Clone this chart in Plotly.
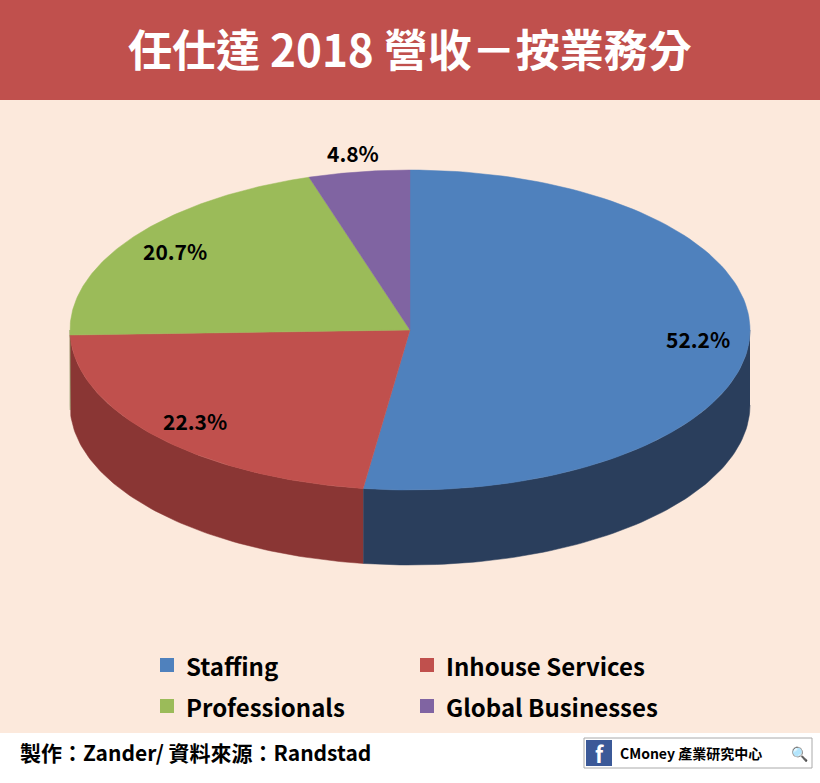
import numpy as np
import plotly.graph_objects as go

# data
segments = ["Staffing", "Inhouse Services", "Professionals", "Global Businesses"]
shares = [52.2, 22.3, 20.7, 4.8]
top_colors = ["#4F81BD", "#C0504D", "#9BBB59", "#8064A2"]
side_colors = ["#2A3E5C", "#8A3634", "#6B8240", "#5A4773"]
label_factor = [0.85, 0.85, 0.85, 1.12]

W, H = 820, 783
cx, cy, rx, ry, depth = 410, 330, 340, 160, 75
FONT = "Noto Sans CJK TC"


def pt(theta_deg, dy=0.0):
    t = np.radians(theta_deg)
    return cx + rx * np.cos(t), cy - ry * np.sin(t) + dy


fig = go.Figure()

# angles, clockwise from 12 o'clock
bounds = [90.0]
for s in shares:
    bounds.append(bounds[-1] - s / 100 * 360)

# front side faces
for i in range(len(shares)):
    a0, a1 = bounds[i], bounds[i + 1]
    lo, hi = max(a1, -180), min(a0, 0)
    if lo >= hi:
        continue
    th = np.linspace(hi, lo, 80)
    xt, yt = pt(th)
    xb, yb = pt(th[::-1], depth)
    fig.add_trace(go.Scatter(x=np.r_[xt, xb], y=np.r_[yt, yb], fill="toself",
                             fillcolor=side_colors[i], mode="lines",
                             line=dict(color=side_colors[i], width=0.5),
                             hoverinfo="skip", showlegend=False))

# top faces
for i in range(len(shares)):
    th = np.linspace(bounds[i], bounds[i + 1], 120)
    xs, ys = pt(th)
    fig.add_trace(go.Scatter(x=np.r_[cx, xs, cx], y=np.r_[cy, ys, cy], fill="toself",
                             fillcolor=top_colors[i], mode="lines",
                             line=dict(color=top_colors[i], width=0.5),
                             hoverinfo="skip", showlegend=False))
    mid = (bounds[i] + bounds[i + 1]) / 2
    t = np.radians(mid)
    fig.add_annotation(x=cx + label_factor[i] * rx * np.cos(t),
                       y=cy - label_factor[i] * ry * np.sin(t),
                       text=f"<b>{shares[i]:.1f}%</b>", showarrow=False,
                       font=dict(size=21, color="black", family=FONT))

# title band and footer
fig.add_shape(type="rect", x0=0, x1=W, y0=0, y1=100, fillcolor="#C0504D", line_width=0, layer="below")
fig.add_shape(type="rect", x0=0, x1=W, y0=733, y1=H, fillcolor="white", line_width=0, layer="below")
fig.add_annotation(x=W / 2, y=48, text="<b>任仕達 2018 營收－按業務分</b>", showarrow=False,
                   font=dict(size=44, color="white", family=FONT))

# legend
leg_pos = [(160, 665), (420, 665), (160, 706), (420, 706)]
for (lx, ly), name, col in zip(leg_pos, segments, top_colors):
    fig.add_shape(type="rect", x0=lx, x1=lx + 14, y0=ly - 7, y1=ly + 7, fillcolor=col, line_width=0)
    fig.add_annotation(x=lx + 24, y=ly, text=f"<b>{name}</b>", showarrow=False, xanchor="left",
                       font=dict(size=24, color="black", family=FONT))

fig.add_annotation(x=18, y=752, text="<b>製作：Zander/ 資料來源：Randstad</b>", showarrow=False,
                   xanchor="left", font=dict(size=21, color="black", family=FONT))
fig.add_shape(type="rect", x0=584, x1=812, y0=738, y1=768, fillcolor="white",
              line=dict(color="#AAAAAA", width=1))
fig.add_shape(type="rect", x0=586, x1=612, y0=740, y1=766, fillcolor="#3B5998", line_width=0)
fig.add_annotation(x=599, y=753, text="<b>f</b>", showarrow=False, font=dict(size=22, color="white", family=FONT))
fig.add_annotation(x=618, y=753, text="<b>CMoney 產業研究中心</b>", showarrow=False, xanchor="left",
                   font=dict(size=14, color="black", family=FONT))
fig.add_annotation(x=799, y=753, text="🔍", showarrow=False, font=dict(size=14, color="#888"))

fig.update_xaxes(range=[0, W], visible=False)
fig.update_yaxes(range=[H, 0], visible=False)
fig.update_layout(width=W, height=H, margin=dict(l=0, r=0, t=0, b=0),
                  plot_bgcolor="#FCE9DC", paper_bgcolor="#FCE9DC", showlegend=False)
fig.write_html("out.html", config={"displayModeBar": False},
               post_script="document.body.style.margin='0';document.body.style.overflow='hidden';")
